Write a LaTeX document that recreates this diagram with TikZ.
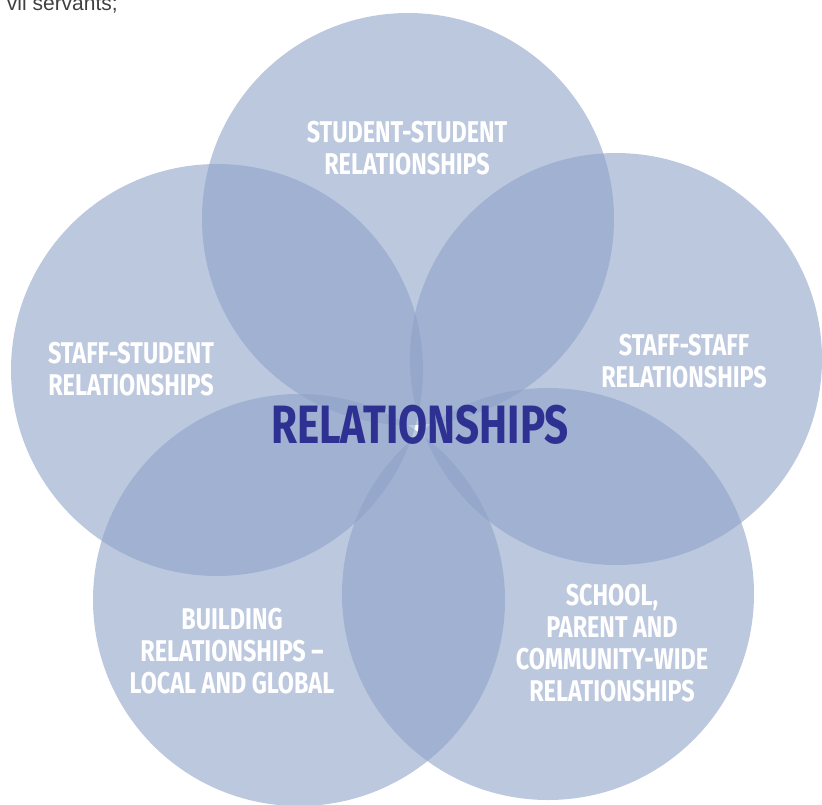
\documentclass[tikz,border=0pt]{standalone}
\usepackage{fontspec}
\newfontfamily\diagfont[FakeStretch=0.78]{Fira Sans}
\newfontfamily\pagefont{Liberation Sans}
\definecolor{ringblue}{RGB}{140,160,199}
\definecolor{hubnavy}{RGB}{46,49,146}

\begin{document}
\begin{tikzpicture}[x=1pt, y=-1pt]
  % \draw[help lines] (0,0) grid (822,804);

  \tikzset{ring node/.style={circle,draw=none,fill=ringblue,fill opacity=.58,minimum size=412pt,inner sep=0pt,outer sep=0pt}}
  \tikzset{ring label/.style={text=white,align=center,inner sep=0pt,font=\diagfont\bfseries\fontsize{30}{32}\selectfont}}
  \tikzset{hub label/.style={text=hubnavy,inner sep=0pt,font=\diagfont\bfseries\fontsize{54}{60}\selectfont}}

  \clip (0,0) rectangle (822,804);

  \path (118,10) node[anchor=base east,inner sep=0pt,text=black!75,font=\pagefont\fontsize{21}{24}\selectfont](runon) {vil servants;};

  \path
    (408,219) node[ring node](ssring){}
    (217,370) node[ring node](sfring){}
    (616,359) node[ring node](ffring){}
    (299,600) node[ring node](blring){}
    (548,594) node[ring node](scring){}
  ;

  \path
    (407,148) node[ring label](sstext){STUDENT-STUDENT\\RELATIONSHIPS}
    (131,369) node[ring label](sftext){STAFF-STUDENT\\RELATIONSHIPS}
    (684,361) node[ring label](fftext){STAFF-STAFF\\RELATIONSHIPS}
    (232,651) node[ring label](bltext){BUILDING\\RELATIONSHIPS –\\LOCAL AND GLOBAL}
    (612,643) node[ring label](sctext){SCHOOL,\\PARENT AND\\COMMUNITY-WIDE\\RELATIONSHIPS}
    (420,425) node[hub label](hub){RELATIONSHIPS}
  ;

\end{tikzpicture}
\end{document}
